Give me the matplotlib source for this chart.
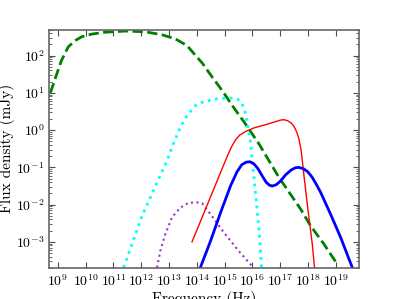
import numpy as np
import matplotlib
matplotlib.use("Agg")
import matplotlib.pyplot as plt

plt.rcParams['font.family'] = 'serif'
plt.rcParams['font.serif'] = ['cmr10', 'DejaVu Serif']
plt.rcParams['mathtext.fontset'] = 'cm'
plt.rcParams['axes.formatter.use_mathtext'] = True
plt.rcParams['axes.unicode_minus'] = False

# log10(frequency), log10(flux) pairs
green_lognu = [8.73, 8.94, 9.13, 9.37, 9.61, 9.87, 10.23, 10.72, 11.44, 12.15, 12.75,
               13.23, 13.65, 14.01, 14.20, 14.56, 14.92, 15.28, 15.76, 16.24, 16.96,
               17.74, 18.10, 18.58, 19.06]
green_logf = [1.0, 1.46, 1.87, 2.23, 2.40, 2.51, 2.58, 2.63, 2.66, 2.64, 2.56,
              2.45, 2.27, 1.96, 1.80, 1.42, 1.06, 0.66, 0.16, -0.37, -1.27,
              -2.12, -2.57, -3.06, -3.60]

cyan_lognu = [11.37, 11.67, 12.03, 12.33, 12.63, 12.93, 13.17, 13.41, 13.65, 13.95,
              14.26, 14.74, 15.10, 15.30, 15.45, 15.58, 15.66, 15.73, 15.78, 15.82,
              15.87, 15.93, 16.06, 16.18, 16.28, 16.33]
cyan_logf = [-3.69, -3.06, -2.30, -1.81, -1.31, -0.82, -0.35, 0.08, 0.39, 0.66,
             0.77, 0.84, 0.86, 0.86, 0.84, 0.77, 0.66, 0.52, 0.35, 0.16,
             -0.05, -0.30, -1.27, -2.17, -3.06, -3.69]

purple_lognu = [12.57, 12.69, 12.87, 13.11, 13.41, 13.71, 14.01, 14.20, 14.50, 14.98,
                15.46, 16.06]
purple_logf = [-3.69, -3.24, -2.79, -2.34, -2.08, -1.95, -1.94, -1.97, -2.26, -2.75,
               -3.20, -3.71]

red_lognu = [13.83, 14.14, 14.74, 15.10, 15.25, 15.40, 15.55, 15.75, 16.06, 16.54,
             16.80, 17.02, 17.15, 17.28, 17.40, 17.50, 17.60, 17.68, 17.76, 17.84,
             17.98, 18.16, 18.24]
red_logf = [-3.0, -2.44, -1.35, -0.70, -0.45, -0.26, -0.13, -0.04, 0.06, 0.16,
            0.22, 0.27, 0.28, 0.25, 0.19, 0.10, -0.05, -0.24, -0.55, -1.09,
            -1.99, -3.06, -3.69]

blue_lognu = [14.13, 14.50, 14.86, 15.22, 15.45, 15.62, 15.78, 15.92, 16.05, 16.20,
              16.35, 16.50, 16.62, 16.72, 16.85, 17.00, 17.20, 17.40, 17.55, 17.68,
              17.85, 18.00, 18.16, 18.30, 18.46, 18.82, 19.18, 19.60]
blue_logf = [-3.69, -2.97, -2.21, -1.49, -1.12, -0.93, -0.86, -0.85, -0.90, -1.03,
             -1.22, -1.40, -1.48, -1.50, -1.47, -1.38, -1.20, -1.07, -1.01, -1.00,
             -1.04, -1.12, -1.27, -1.45, -1.67, -2.26, -2.88, -3.69]

fig = plt.figure(figsize=(3.99, 2.99), dpi=100)
ax = fig.add_axes([0.124, 0.104, 0.776, 0.797])


def show(lognu, logf, **kw):
    ax.plot(10 ** np.array(lognu), 10 ** np.array(logf), **kw)


show(green_lognu, green_logf, color='green', ls='--', lw=2)
show(cyan_lognu, cyan_logf, color='cyan', ls=':', lw=2)
show(purple_lognu, purple_logf, color='darkorchid', ls=':', lw=1.5)
show(red_lognu, red_logf, color='red', ls='-', lw=1)
show(blue_lognu, blue_logf, color='blue', ls='-', lw=2)

ax.set_xscale('log')
ax.set_yscale('log')
ax.set_xlim(5e8, 7e19)
ax.set_ylim(2e-4, 5e2)
ax.set_xticks([10.0 ** k for k in range(9, 20)])
ax.set_yticks([10.0 ** k for k in range(-3, 3)])
ax.tick_params(which='both', direction='in', top=True, right=True, labelsize=10,
               color='0.3')
ax.tick_params(which='major', length=4)
ax.tick_params(which='minor', length=2)
for s in ax.spines.values():
    s.set_color('0.4')
    s.set_linewidth(1.2)

ax.set_xlabel('Frequency (Hz)', fontsize=11, labelpad=1)
ax.set_ylabel('Flux density (mJy)', fontsize=11, labelpad=1)

fig.savefig('out.png', dpi=100)
